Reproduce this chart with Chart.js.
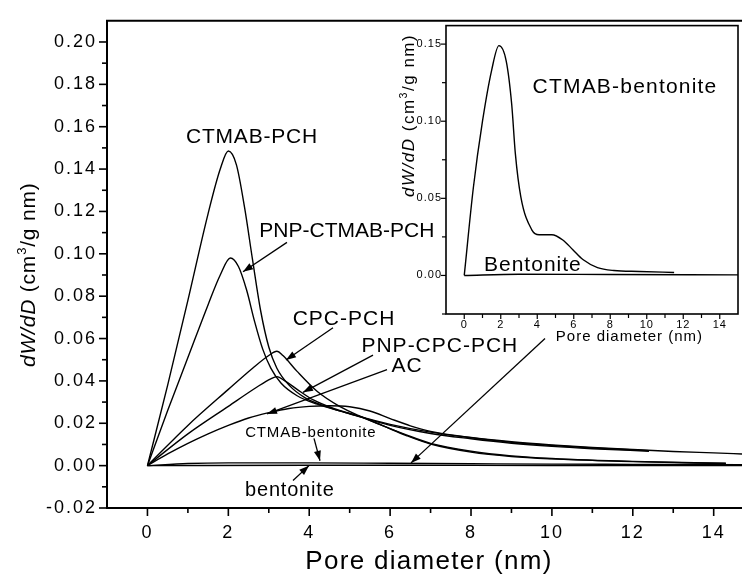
<!DOCTYPE html>
<html>
<head>
<meta charset="utf-8">
<script src="https://cdn.jsdelivr.net/npm/chart.js@4.4.0/dist/chart.umd.min.js"></script>
<style>
  html, body { margin: 0; padding: 0; background: #fff; }
  #wrap { position: relative; width: 742px; height: 576px; overflow: hidden; }
  #mainChart { position: absolute; left: 0; top: 0; }
  #insetChart { position: absolute; left: 380px; top: 15px; }
</style>
</head>
<body>
<div id="wrap">
  <canvas id="mainChart" width="742" height="576"></canvas>
  <canvas id="insetChart" width="362" height="335"></canvas>
</div>
<script>
// ---- main plot data (pore diameter in nm, dW/dD in cm3/g nm) ----
const ctmabPchX = [0, 0.5, 1, 1.5, 1.8, 2.0, 2.2, 2.4, 2.6, 2.8, 3.0, 3.2, 3.5, 3.9, 4.4, 5.2, 6, 7, 8, 9, 10, 11, 12.4];
const ctmabPchY = [0, 0.038, 0.078, 0.119, 0.140, 0.1485, 0.142, 0.122, 0.097, 0.073, 0.056, 0.046, 0.038, 0.032, 0.028, 0.0235, 0.0195, 0.0158, 0.0132, 0.011, 0.0095, 0.0083, 0.0071];

const pnpCtmabPchX = [0, 0.5, 1, 1.5, 1.8, 2.05, 2.25, 2.45, 2.65, 2.85, 3.05, 3.3, 3.7, 4.2, 5, 6, 7, 8, 9, 10, 11, 12.4];
const pnpCtmabPchY = [0, 0.026, 0.051, 0.076, 0.090, 0.098, 0.094, 0.083, 0.068, 0.055, 0.046, 0.039, 0.033, 0.029, 0.0245, 0.019, 0.0152, 0.0127, 0.0106, 0.0091, 0.008, 0.0068];

const cpcPchX = [0, 1, 2, 2.6, 3.0, 3.2, 3.35, 3.7, 4.2, 4.75, 5.3, 5.8, 6.4, 7, 8, 9, 10, 12, 14.3];
const cpcPchY = [0, 0.019, 0.036, 0.046, 0.052, 0.054, 0.052, 0.0445, 0.035, 0.028, 0.023, 0.019, 0.0145, 0.0105, 0.0068, 0.0046, 0.0034, 0.002, 0.0011];

const pnpCpcPchX = [0, 1, 2, 2.7, 3.05, 3.2, 3.4, 3.7, 4.1, 4.6, 5.2, 5.8, 6.4, 7, 8, 9, 10, 12, 14.3];
const pnpCpcPchY = [0, 0.015, 0.028, 0.037, 0.041, 0.042, 0.040, 0.036, 0.031, 0.027, 0.0235, 0.019, 0.0142, 0.0102, 0.0064, 0.0043, 0.0032, 0.0019, 0.001];

const acX = [0, 0.5, 1, 1.5, 2, 2.5, 3, 3.5, 4, 4.5, 5, 5.5, 6, 6.5, 7, 8, 9, 10, 11, 12, 13, 14, 14.7];
const acY = [0, 0.0055, 0.0105, 0.015, 0.019, 0.0225, 0.025, 0.027, 0.028, 0.0283, 0.0278, 0.0258, 0.0222, 0.0188, 0.0162, 0.0133, 0.0113, 0.0098, 0.0086, 0.0076, 0.0067, 0.006, 0.0055];

const ctmabBentX = [0, 1, 2, 4, 6, 8, 10, 12, 14.7];
const ctmabBentY = [0, 0.001, 0.0013, 0.0013, 0.0011, 0.0009, 0.0007, 0.0006, 0.0005];

const bentX = [0, 4, 8, 14.7];
const bentY = [0, 0.0002, 0.0001, 0];

// ---- inset data ----
const insetCtmabBentX = [0, 0.5, 1, 1.5, 1.9, 2.3, 2.6, 2.8, 3.1, 3.7, 4.1, 4.8, 5.4, 5.95, 6.5, 7.3, 8.2, 9.6, 11.5];
const insetCtmabBentY = [0, 0.057, 0.1, 0.133, 0.149, 0.139, 0.111, 0.079, 0.051, 0.0296, 0.0264, 0.0264, 0.023, 0.0167, 0.0103, 0.0051, 0.0032, 0.0026, 0.0019];
const insetBentX = [0, 3, 8, 15];
const insetBentY = [0, 0.0008, 0.0006, 0.0004];

const FONT = '"Liberation Sans", Arial, Helvetica, sans-serif';

// curve labels and arrows of the main plot, in data units
const mainLabels = [
  ['CTMAB-PCH', 2.585, 0.1549, 21, 0.8],
  ['PNP-CTMAB-PCH', 4.93, 0.1105, 21, 0],
  ['CPC-PCH', 4.86, 0.0693, 21, 1],
  ['PNP-CPC-PCH', 7.23, 0.0564, 21, 1],
  ['AC', 6.42, 0.0471, 21, 1],
  ['CTMAB-bentonite', 4.04, 0.0156, 15, 0.8],
  ['bentonite', 3.52, -0.0117, 20, 0.8]
];
const mainArrows = [
  [3.45, 0.1054, 2.363, 0.0915],
  [4.588, 0.0651, 3.426, 0.0499],
  [5.577, 0.0522, 3.846, 0.0346],
  [5.923, 0.0453, 2.956, 0.0244],
  [4.118, 0.0129, 4.266, 0.0023],
  [3.599, -0.007, 3.994, 0.0],
  [9.83, 0.0600, 6.516, 0.0013]
];

function pts(xs, ys) {
  return xs.map((x, i) => ({ x: x, y: ys[i] }));
}

function curve(xs, ys) {
  return {
    data: pts(xs, ys),
    borderColor: '#000',
    borderWidth: 1.4,
    pointRadius: 0,
    fill: false,
    cubicInterpolationMode: 'monotone'
  };
}

function fmt2(v) {
  const r = Math.round(v * 100) / 100;
  return (Math.abs(r) < 1e-9 ? 0 : r).toFixed(2);
}

function txt(ctx, s, x, y, size, sp, italic) {
  ctx.save();
  ctx.font = (italic ? 'italic ' : '') + size + 'px ' + FONT;
  ctx.letterSpacing = (sp || 0) + 'px';
  ctx.textAlign = 'center';
  ctx.textBaseline = 'middle';
  ctx.fillStyle = '#000';
  ctx.fillText(s, x, y);
  ctx.restore();
}

function arrow(ctx, x1, y1, x2, y2) {
  ctx.beginPath();
  ctx.moveTo(x1, y1);
  ctx.lineTo(x2, y2);
  ctx.stroke();
  const a = Math.atan2(y2 - y1, x2 - x1), L = 10, W = 3.5;
  ctx.beginPath();
  ctx.moveTo(x2, y2);
  ctx.lineTo(x2 - L * Math.cos(a) + W * Math.sin(a), y2 - L * Math.sin(a) - W * Math.cos(a));
  ctx.lineTo(x2 - L * Math.cos(a) - W * Math.sin(a), y2 - L * Math.sin(a) + W * Math.cos(a));
  ctx.closePath();
  ctx.fill();
}

// rotated "dW/dD (cm3/g nm)" with italic part and superscript
function yTitle(ctx, bx, cy, size, sp) {
  const parts = [['dW/dD', 'italic ', size, 0], [' (cm', '', size, 0], ['3', '', size * 0.62, -size * 0.42], ['/g nm)', '', size, 0]];
  ctx.save();
  ctx.translate(bx, cy);
  ctx.rotate(-Math.PI / 2);
  ctx.letterSpacing = sp + 'px';
  ctx.textAlign = 'left';
  ctx.textBaseline = 'alphabetic';
  ctx.fillStyle = '#000';
  let total = 0;
  parts.forEach(p => {
    ctx.font = p[1] + p[2] + 'px ' + FONT;
    p.w = ctx.measureText(p[0]).width;
    total += p.w;
  });
  let px = -total / 2;
  parts.forEach(p => {
    ctx.font = p[1] + p[2] + 'px ' + FONT;
    ctx.fillText(p[0], px, p[3]);
    px += p.w;
  });
  ctx.restore();
}

function drawTicks(ctx, scale, area, side, major, minor, skip) {
  scale.ticks.forEach(t => {
    if (skip(t.value)) return;
    const p = scale.getPixelForValue(t.value);
    const len = t.label ? major : minor;
    ctx.beginPath();
    if (side === 'left') { ctx.moveTo(area.left - len, p); ctx.lineTo(area.left, p); }
    else { ctx.moveTo(p, area.bottom); ctx.lineTo(p, area.bottom + len); }
    ctx.stroke();
  });
}

const mainDecor = {
  id: 'mainDecor',
  beforeDraw(chart) {
    chart.ctx.letterSpacing = '2px';
  },
  afterDraw(chart) {
    const { ctx, chartArea: a, scales: { x, y } } = chart;
    ctx.save();
    ctx.strokeStyle = '#000';
    ctx.fillStyle = '#000';
    ctx.lineWidth = 2;
    ctx.beginPath();
    ctx.moveTo(a.right, a.top);
    ctx.lineTo(a.left, a.top);
    ctx.lineTo(a.left, a.bottom);
    ctx.lineTo(a.right, a.bottom);
    ctx.stroke();
    ctx.lineWidth = 1.6;
    drawTicks(ctx, y, a, 'left', 8, 5, v => v > 0.205);
    drawTicks(ctx, x, a, 'bottom', 8, 5, v => v < -0.5);

    ctx.lineWidth = 1.3;
    mainArrows.forEach(r => arrow(ctx, x.getPixelForValue(r[0]), y.getPixelForValue(r[1]), x.getPixelForValue(r[2]), y.getPixelForValue(r[3])));
    mainLabels.forEach(l => txt(ctx, l[0], x.getPixelForValue(l[1]), y.getPixelForValue(l[2]), l[3], l[4]));

    txt(ctx, 'Pore diameter (nm)', x.getPixelForValue(6.96), a.bottom + 54, 26, 1.3);
    yTitle(ctx, a.left - 72, y.getPixelForValue(0.0901), 21, 0.8);
    ctx.restore();
  }
};

const insetDecor = {
  id: 'insetDecor',
  beforeDraw(chart) {
    const { ctx, chartArea: a } = chart;
    ctx.save();
    ctx.fillStyle = '#fff';
    ctx.fillRect(a.left, a.top, a.right - a.left, a.bottom - a.top);
    ctx.restore();
    ctx.letterSpacing = '1px';
  },
  afterDraw(chart) {
    const { ctx, chartArea: a, scales: { x, y } } = chart;
    ctx.save();
    ctx.strokeStyle = '#000';
    ctx.lineWidth = 1.6;
    ctx.strokeRect(a.left, a.top, a.right - a.left, a.bottom - a.top);
    ctx.lineWidth = 1.2;
    drawTicks(ctx, y, a, 'left', 5, 4, v => v > 0.16);
    drawTicks(ctx, x, a, 'bottom', 5, 4, v => v < -0.5 || v > 14.5);

    txt(ctx, 'CTMAB-bentonite', x.getPixelForValue(8.81), y.getPixelForValue(0.1219), 21, 1.2);
    txt(ctx, 'Bentonite', x.getPixelForValue(3.76), y.getPixelForValue(0.0067), 21, 1);
    txt(ctx, 'Pore diameter (nm)', x.getPixelForValue(9.05), a.bottom + 23, 15, 1);
    yTitle(ctx, a.left - 32, y.getPixelForValue(0.1038), 17, 1.5);
    ctx.restore();
  }
};

const tickFont = { family: FONT, size: 18 };

new Chart(document.getElementById('mainChart'), {
  type: 'line',
  data: {
    datasets: [
      curve(ctmabPchX, ctmabPchY),
      curve(pnpCtmabPchX, pnpCtmabPchY),
      curve(cpcPchX, cpcPchY),
      curve(pnpCpcPchX, pnpCpcPchY),
      curve(acX, acY),
      curve(ctmabBentX, ctmabBentY),
      curve(bentX, bentY)
    ]
  },
  options: {
    responsive: false,
    animation: false,
    events: [],
    layout: { padding: { top: 11, right: 0, left: 0, bottom: 0 } },
    plugins: { legend: { display: false }, tooltip: { enabled: false } },
    scales: {
      x: {
        type: 'linear',
        min: -1,
        max: 14.7,
        grid: { display: false, drawTicks: false },
        border: { display: false },
        ticks: {
          stepSize: 1,
          autoSkip: false,
          includeBounds: false,
          maxRotation: 0,
          padding: 14,
          color: '#000',
          font: tickFont,
          callback: v => (v >= 0 && Math.round(v) % 2 === 0) ? String(Math.round(v)) : ''
        },
        afterFit: s => { s.height = 68; }
      },
      y: {
        type: 'linear',
        min: -0.02,
        max: 0.21,
        grid: { display: false, drawTicks: false },
        border: { display: false },
        ticks: {
          stepSize: 0.01,
          autoSkip: false,
          padding: 10,
          color: '#000',
          font: tickFont,
          callback: v => (Math.abs(Math.round(v * 100)) % 2 === 0 && v < 0.205) ? fmt2(v) : ''
        },
        afterFit: s => { s.width = 107; }
      }
    }
  },
  plugins: [mainDecor]
});

new Chart(document.getElementById('insetChart'), {
  type: 'line',
  data: {
    datasets: [
      curve(insetCtmabBentX, insetCtmabBentY),
      curve(insetBentX, insetBentY)
    ]
  },
  options: {
    responsive: false,
    animation: false,
    events: [],
    layout: { padding: { top: 10, right: 4, left: 0, bottom: 0 } },
    plugins: { legend: { display: false }, tooltip: { enabled: false } },
    scales: {
      x: {
        type: 'linear',
        min: -1,
        max: 15,
        grid: { display: false, drawTicks: false },
        border: { display: false },
        ticks: {
          stepSize: 1,
          autoSkip: false,
          includeBounds: false,
          maxRotation: 0,
          padding: 4,
          color: '#000',
          font: { family: FONT, size: 11 },
          callback: v => (v >= 0 && v <= 14 && Math.round(v) % 2 === 0) ? String(Math.round(v)) : ''
        },
        afterFit: s => { s.height = 36; }
      },
      y: {
        type: 'linear',
        min: -0.025,
        max: 0.162,
        grid: { display: false, drawTicks: false },
        border: { display: false },
        ticks: {
          stepSize: 0.025,
          autoSkip: false,
          includeBounds: false,
          padding: 4,
          color: '#000',
          font: { family: FONT, size: 11 },
          callback: v => (v >= -0.001 && Math.round(v * 1000) % 50 === 0) ? fmt2(v) : ''
        },
        afterFit: s => { s.width = 66; }
      }
    }
  },
  plugins: [insetDecor]
});
</script>
</body>
</html>
